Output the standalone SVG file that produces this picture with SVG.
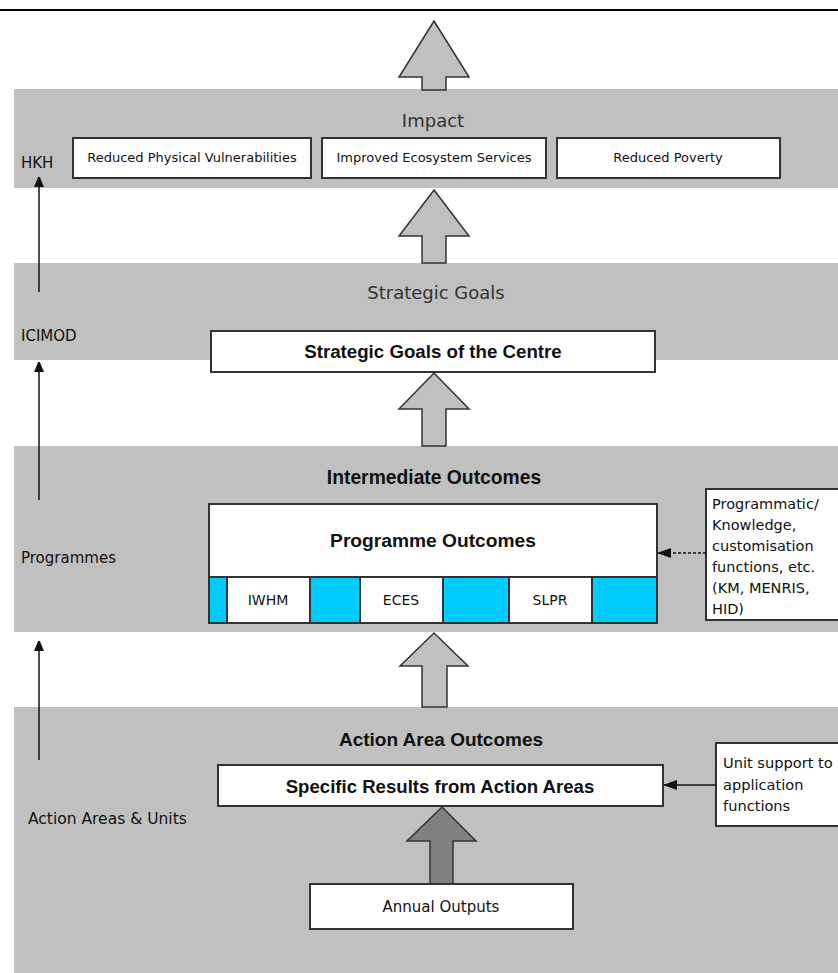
<svg xmlns="http://www.w3.org/2000/svg" width="838" height="973" viewBox="0 0 838 973">
<defs>
<style>
.band{fill:#c0c0c0}
.box{fill:#fff;stroke:#333;stroke-width:2}
.cyan{fill:#00ccff;stroke:#333;stroke-width:2}
.big{fill:#c0c0c0;stroke:#333;stroke-width:1.5;stroke-linejoin:miter}
.dark{fill:#808080;stroke:#333;stroke-width:1.5}
text{font-family:"DejaVu Sans","Liberation Sans",Arial,sans-serif;fill:#111}
.t12{font-size:13px;text-anchor:middle}
.side{font-size:14.5px}
.lbl{font-size:15px}
.hdr{font-size:18px;text-anchor:middle;fill:#333}
.bold{font-family:"Liberation Sans",Arial,sans-serif;font-weight:bold;text-anchor:middle}
.line{stroke:#111;stroke-width:1.5;fill:none}
</style>
<marker id="ah" markerWidth="10" markerHeight="12" refX="9" refY="5" orient="auto" markerUnits="userSpaceOnUse"><path d="M0,0 L12,5 L0,10 z" fill="#111"/></marker>
<marker id="ahs" markerWidth="14" markerHeight="10" refX="13" refY="5" orient="auto" markerUnits="userSpaceOnUse"><path d="M0,0 L14,5 L0,10 z" fill="#111"/></marker>
</defs>
<line x1="0" y1="10" x2="838" y2="10" stroke="#000" stroke-width="2"/>
<g id="bands">
<rect class="band" x="14" y="89" width="824" height="99"/>
<rect class="band" x="14" y="263" width="824" height="97"/>
<rect class="band" x="14" y="446" width="824" height="186"/>
<rect class="band" x="14" y="707" width="824" height="266"/>
</g>
<g id="block-arrows">
<path class="big" d="M434,21 L469,77 L446,77 L446,90 L422,90 L422,77 L399,77 Z"/>
<path class="big" d="M434,190 L469,236 L446,236 L446,263 L422,263 L422,236 L399,236 Z"/>
<path class="big" d="M434,373 L469,409 L446,409 L446,446 L422,446 L422,409 L399,409 Z"/>
<path class="big" d="M434,633 L468,666 L447,666 L447,707 L422,707 L422,666 L400,666 Z"/>
<path class="dark" d="M442,807 L476,841 L453,841 L453,884 L430,884 L430,841 L407,841 Z"/>
</g>
<g id="impact">
<text class="hdr" x="433" y="127">Impact</text>
<text class="lbl" x="21" y="168">HKH</text>
</g>
<g id="box-rpv"><rect class="box" x="73" y="138" width="238" height="40"/><text class="t12" x="192" y="162">Reduced Physical Vulnerabilities</text></g>
<g id="box-ies"><rect class="box" x="322" y="138" width="224" height="40"/><text class="t12" x="434" y="162">Improved Ecosystem Services</text></g>
<g id="box-rp"><rect class="box" x="557" y="138" width="223" height="40"/><text class="t12" x="668" y="162">Reduced Poverty</text></g>
<g id="strategic">
<text class="hdr" x="436" y="299">Strategic Goals</text>
<text class="lbl" x="21" y="341">ICIMOD</text>
</g>
<g id="box-sgc"><rect class="box" x="211" y="331" width="444" height="41"/><text class="bold" style="font-size:18.7px" x="433" y="358">Strategic Goals of the Centre</text></g>
<g id="intermediate">
<text class="bold" style="font-size:19.3px" x="434" y="484">Intermediate Outcomes</text>
<text class="lbl" x="21" y="563">Programmes</text>
</g>
<g id="box-po">
<rect class="box" x="209" y="504" width="448" height="119"/>
<rect class="cyan" x="209" y="577" width="448" height="46"/>
<rect class="box" x="227" y="577" width="83" height="46"/>
<rect class="box" x="360" y="577" width="83" height="46"/>
<rect class="box" x="509" y="577" width="83" height="46"/>
<text class="bold" style="font-size:19.2px" x="433" y="547">Programme  Outcomes</text>
<text class="t12" style="font-size:14px" x="268" y="605">IWHM</text>
<text class="t12" style="font-size:14px" x="401" y="605">ECES</text>
<text class="t12" style="font-size:14px" x="550" y="605">SLPR</text>
</g>
<g id="box-prog-side">
<rect class="box" x="706" y="489" width="140" height="131"/>
<text class="side" x="712" y="509">Programmatic/</text>
<text class="side" x="712" y="530">Knowledge,</text>
<text class="side" x="712" y="551">customisation</text>
<text class="side" x="712" y="572">functions, etc.</text>
<text class="side" x="712" y="593">(KM, MENRIS,</text>
<text class="side" x="712" y="614">HID)</text>
</g>
<g id="action">
<text class="bold" style="font-size:19px" x="441" y="746">Action Area Outcomes</text>
<text class="lbl" style="font-size:15.5px" x="28" y="824">Action Areas &amp; Units</text>
</g>
<g id="box-sr"><rect class="box" x="218" y="765" width="445" height="41"/><text class="bold" style="font-size:18.6px" x="440" y="793">Specific Results from Action Areas</text></g>
<g id="box-unit">
<rect class="box" x="716" y="743" width="130" height="83"/>
<text class="side" style="font-size:14.6px" x="723" y="768">Unit support to</text>
<text class="side" style="font-size:14.6px" x="723" y="790">application</text>
<text class="side" style="font-size:14.6px" x="723" y="811">functions</text>
</g>
<g id="box-ao"><rect class="box" x="310" y="884" width="263" height="45"/><text class="t12" style="font-size:15px" x="441" y="912">Annual Outputs</text></g>
<g id="connectors">
<line class="line" x1="39" y1="292" x2="39" y2="178" marker-end="url(#ah)"/>
<line class="line" x1="39" y1="500" x2="39" y2="363" marker-end="url(#ah)"/>
<line class="line" x1="39" y1="760" x2="39" y2="642" marker-end="url(#ah)"/>
<line class="line" x1="706" y1="553" x2="658" y2="553" stroke-dasharray="3,2" marker-end="url(#ahs)"/>
<line class="line" x1="716" y1="785" x2="664" y2="785" marker-end="url(#ahs)"/>
</g>
</svg>
